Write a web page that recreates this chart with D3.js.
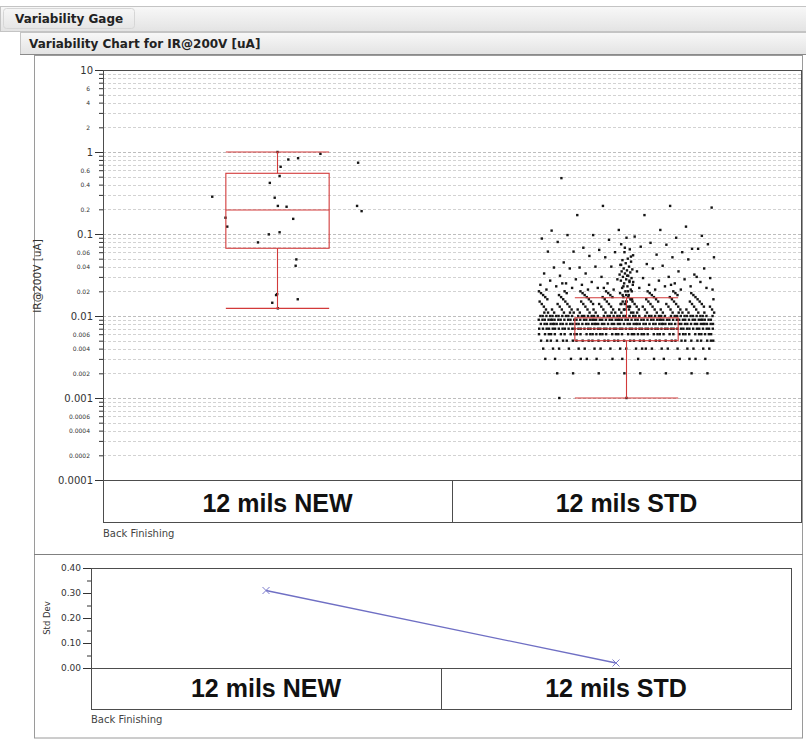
<!DOCTYPE html>
<html><head><meta charset="utf-8">
<script src="https://cdn.jsdelivr.net/npm/d3@7"></script>
<style>
html,body{margin:0;padding:0;background:#fff;}
svg{display:block;}
</style></head><body>
<svg id="chart" width="806" height="740"></svg>
<script>
// ---- data ----
const categories = ["12 mils NEW", "12 mils STD"];
const groupLabel = "Back Finishing";
const reportTitle = "Variability Gage";
const chartTitle = "Variability Chart for IR@200V [uA]";
const yTitle = "IR@200V [uA]";
const sdTitle = "Std Dev";

// box summary for each category
const whiskerHigh = [1.0, 0.0167];
const quartile3 = [0.55, 0.0095];
const medians = [0.196, 0.007];
const quartile1 = [0.067, 0.005];
const whiskerLow = [0.0124, 0.001];

// standard deviation per category
const stdDevs = [0.31, 0.02];

// 12 mils NEW readings and their horizontal jitter (fraction of category width)
const newValues = [1.0, 0.95, 0.81, 0.84, 0.74, 0.66, 0.51, 0.42, 0.285, 0.277, 0.22, 0.215, 0.22, 0.19,
  0.153, 0.158, 0.123, 0.099, 0.105, 0.079, 0.041, 0.049, 0.0185, 0.018, 0.0145, 0.016, 0.0124];
const newJitter = [0.000, 0.123, 0.031, 0.059, 0.231, 0.009, 0.006, -0.022, -0.187, -0.008, 0.001, 0.026, 0.228, 0.241,
  0.045, -0.149, -0.144, -0.025, 0.006, -0.056, 0.052, 0.054, -0.001, -0.004, -0.015, 0.058, 0.001];

// 12 mils STD readings: resolution 0.001 uA, many repeated values
const stdLevels = [0.001, 0.002, 0.003, 0.004, 0.005, 0.006, 0.007, 0.008, 0.009, 0.010,
  0.011, 0.012, 0.013, 0.014, 0.015, 0.016, 0.017, 0.018, 0.019, 0.020];
const stdLevelCounts = [2, 8, 15, 22, 35, 45, 55, 60, 60, 50,
  25, 20, 15, 14, 12, 10, 9, 8, 7, 7];
// higher STD readings, spread across the category
const stdScatter = [0.48, 0.22, 0.22, 0.21, 0.17, 0.17, 0.123, 0.112, 0.11, 0.112, 0.097, 0.095, 0.093, 0.097,
  0.09, 0.085, 0.088, 0.078, 0.068, 0.066, 0.068, 0.08, 0.074, 0.064, 0.075, 0.07, 0.061, 0.06, 0.06, 0.061,
  0.056, 0.054, 0.066, 0.053, 0.045, 0.052, 0.052, 0.052, 0.043, 0.039, 0.049, 0.042, 0.039, 0.041, 0.040,
  0.038, 0.035, 0.038, 0.035, 0.04, 0.033, 0.038, 0.033, 0.032, 0.031, 0.031, 0.030, 0.030, 0.029, 0.029,
  0.028, 0.028, 0.028, 0.027, 0.027, 0.026, 0.026, 0.026, 0.025, 0.025, 0.025, 0.024, 0.024, 0.024, 0.023,
  0.023, 0.023, 0.023, 0.022, 0.022, 0.022, 0.022, 0.021, 0.021, 0.021, 0.021, 0.021, 0.03, 0.027, 0.025,
  0.024, 0.022, 0.021];
// STD readings stacked near the category centre
const stdCentre = [0.09, 0.075, 0.065, 0.06, 0.055, 0.05, 0.048, 0.046, 0.044, 0.042, 0.04, 0.038, 0.037,
  0.036, 0.035, 0.034, 0.033, 0.032, 0.031, 0.030, 0.029, 0.028, 0.027, 0.026, 0.025, 0.024, 0.023, 0.022,
  0.021, 0.020, 0.019, 0.018, 0.017, 0.016, 0.015, 0.014, 0.013, 0.012, 0.011, 0.02, 0.018, 0.016, 0.015,
  0.014, 0.013, 0.012];

// axis ticks
const logMajorTicks = [0.0001, 0.001, 0.01, 0.1, 1, 10];
const logMinorDigits = [2, 3, 4, 5, 6, 7, 8, 9];
const logLabelDigits = [2, 4, 6];
const sdTicks = [0, 0.1, 0.2, 0.3, 0.4];
const sdMinorTicks = [0.05, 0.15, 0.25, 0.35];

// ---- drawing ----
const svg = d3.select("#chart");
const smallFont = "'DejaVu Sans', sans-serif";
const catFont = "'Liberation Sans', Arial, sans-serif";
const frameColor = "#4d4d4d";
const boxColor = "#d23a3a";

// header bars
const defs = svg.append("defs");
const grad = defs.append("linearGradient").attr("id", "hdr").attr("x1", 0).attr("x2", 0).attr("y1", 0).attr("y2", 1);
grad.append("stop").attr("offset", "0%").attr("stop-color", "#f8f8f8");
grad.append("stop").attr("offset", "100%").attr("stop-color", "#e3e3e3");

svg.append("rect").attr("x", 0.5).attr("y", 6.5).attr("width", 806).attr("height", 25)
  .attr("fill", "url(#hdr)").attr("stroke", "#c4c4c4");
svg.append("rect").attr("x", 3.5).attr("y", 8.5).attr("width", 131).attr("height", 20).attr("rx", 3)
  .attr("fill", "none").attr("stroke", "#d6d6d6");
svg.append("text").attr("x", 15).attr("y", 23).text(reportTitle)
  .attr("font-family", smallFont).attr("font-weight", "bold").attr("font-size", 12).attr("fill", "#222");

svg.append("rect").attr("x", 20.5).attr("y", 32.5).attr("width", 786).attr("height", 22)
  .attr("fill", "url(#hdr)").attr("stroke", "#c4c4c4");
svg.append("line").attr("x1", 20).attr("x2", 806).attr("y1", 54.5).attr("y2", 54.5).attr("stroke", "#8a8a8a");
svg.append("text").attr("x", 29).attr("y", 48).text(chartTitle)
  .attr("font-family", smallFont).attr("font-weight", "bold").attr("font-size", 12).attr("fill", "#222");

// outer report frame
svg.append("rect").attr("x", 34.5).attr("y", 55.5).attr("width", 768).attr("height", 682.5)
  .attr("fill", "none").attr("stroke", "#9a9a9a");
svg.append("line").attr("x1", 34).attr("x2", 803).attr("y1", 554.5).attr("y2", 554.5).attr("stroke", "#808080");

// ---- upper panel: variability chart on log scale ----
const plotL = 103, plotR = 801, plotT = 70, plotB = 480, catB = 522;
const x = d3.scaleBand().domain(categories).range([plotL, plotR]).padding(0);
const y = d3.scaleLog().domain([0.0001, 10]).range([plotB, plotT]);

const gridValues = [];
logMajorTicks.forEach(m => {
  gridValues.push(m);
  if (m < 10) logMinorDigits.forEach(d => gridValues.push(m * d));
});

svg.append("g").selectAll("line").data(gridValues).join("line")
  .attr("x1", plotL).attr("x2", plotR)
  .attr("y1", d => Math.round(y(d)) + 0.5).attr("y2", d => Math.round(y(d)) + 0.5)
  .attr("stroke", d => logMajorTicks.includes(d) ? "#bdbdbd" : "#d2d2d2")
  .attr("stroke-dasharray", "3,2");

function fmtLog(d) {
  return d >= 1 ? String(Math.round(d)) : d.toFixed(Math.max(0, Math.ceil(-Math.log10(d) - 1e-9)));
}

const minorVals = gridValues.filter(d => !logMajorTicks.includes(d));
const minorAxis = d3.axisLeft(y).tickValues(minorVals).tickSize(4).tickPadding(9)
  .tickFormat(d => {
    const digit = Math.round(d / Math.pow(10, Math.floor(Math.log10(d) + 1e-9)));
    return logLabelDigits.includes(digit) ? fmtLog(d) : "";
  });
const gMinor = svg.append("g").attr("transform", `translate(${plotL},0)`).call(minorAxis);
gMinor.select(".domain").remove();
gMinor.selectAll("line").attr("stroke", "#333");
gMinor.selectAll("text").attr("font-family", smallFont).attr("font-size", 6).attr("fill", "#333");

const majorAxis = d3.axisLeft(y).tickValues(logMajorTicks).tickSize(8).tickPadding(2).tickFormat(fmtLog);
const gMajor = svg.append("g").attr("transform", `translate(${plotL},0)`).call(majorAxis);
gMajor.select(".domain").remove();
gMajor.selectAll("line").attr("stroke", "#333");
gMajor.selectAll("text").attr("font-family", smallFont).attr("font-size", 10).attr("fill", "#333");

svg.append("text").attr("transform", `translate(41,${(plotT + plotB) / 2 + 1}) rotate(-90)`)
  .attr("text-anchor", "middle").attr("font-family", smallFont).attr("font-size", 10.5).attr("fill", "#333")
  .text(yTitle);

// points: spread across each category with a golden-ratio jitter sequence
const phi = 0.6180339887;
const frac = v => v - Math.floor(v);
const bw = x.bandwidth();
const cx = c => x(c) + bw / 2;
const spread = 0.252;

const points = [];
newValues.forEach((v, i) => points.push({ cat: categories[0], v, j: newJitter[i] }));
stdLevels.forEach((lv, i) => {
  for (let k = 0; k < stdLevelCounts[i]; k++) {
    points.push({ cat: categories[1], v: lv, j: (frac(k * phi + 0.5 + i * 0.37) - 0.5) * 2 * spread });
  }
});
stdScatter.forEach((v, k) => points.push({ cat: categories[1], v, j: (frac(k * phi + 0.13) - 0.5) * 2 * spread }));
stdCentre.forEach((v, k) => points.push({ cat: categories[1], v, j: (frac(k * phi + 0.5) - 0.5) * 0.04 }));

svg.append("g").selectAll("rect").data(points).join("rect")
  .attr("x", d => cx(d.cat) + d.j * bw - 1.2)
  .attr("y", d => y(d.v) - 1.2)
  .attr("width", 2.4).attr("height", 2.4)
  .attr("fill", "#151515");

// box plots
const boxHalf = 0.148;
const boxes = categories.map((c, i) => ({
  c, hi: whiskerHigh[i], q3: quartile3[i], med: medians[i], q1: quartile1[i], lo: whiskerLow[i]
}));
const gBox = svg.append("g").attr("stroke", boxColor).attr("fill", "none").attr("stroke-width", 1.1);
boxes.forEach(b => {
  const l = cx(b.c) - boxHalf * bw, r = cx(b.c) + boxHalf * bw;
  gBox.append("rect").attr("x", l).attr("y", y(b.q3)).attr("width", r - l).attr("height", y(b.q1) - y(b.q3));
  gBox.append("line").attr("x1", l).attr("x2", r).attr("y1", y(b.med)).attr("y2", y(b.med));
  gBox.append("line").attr("x1", cx(b.c)).attr("x2", cx(b.c)).attr("y1", y(b.hi)).attr("y2", y(b.q3));
  gBox.append("line").attr("x1", cx(b.c)).attr("x2", cx(b.c)).attr("y1", y(b.q1)).attr("y2", y(b.lo));
  gBox.append("line").attr("x1", l).attr("x2", r).attr("y1", y(b.hi)).attr("y2", y(b.hi));
  gBox.append("line").attr("x1", l).attr("x2", r).attr("y1", y(b.lo)).attr("y2", y(b.lo));
});

// plot frame and category bar
svg.append("rect").attr("x", plotL + 0.5).attr("y", plotT + 0.5).attr("width", plotR - plotL).attr("height", catB - plotT)
  .attr("fill", "none").attr("stroke", frameColor);
svg.append("line").attr("x1", plotL).attr("x2", plotR).attr("y1", plotB + 0.5).attr("y2", plotB + 0.5).attr("stroke", frameColor);
svg.append("line").attr("x1", x(categories[1]) + 0.5).attr("x2", x(categories[1]) + 0.5)
  .attr("y1", plotB).attr("y2", catB).attr("stroke", frameColor);
svg.append("g").selectAll("text").data(categories).join("text")
  .attr("x", d => cx(d)).attr("y", 511.5).attr("text-anchor", "middle")
  .attr("font-family", catFont).attr("font-weight", "bold").attr("font-size", 25).attr("fill", "#111")
  .text(d => d);
svg.append("text").attr("x", plotL).attr("y", 537).text(groupLabel)
  .attr("font-family", smallFont).attr("font-size", 10).attr("fill", "#444");

// ---- lower panel: standard deviation chart ----
const sdL = 91, sdR = 791, sdT = 568, sdB = 668, sdCatB = 709;
const x2 = d3.scaleBand().domain(categories).range([sdL, sdR]).padding(0);
const y2 = d3.scaleLinear().domain([0, 0.4]).range([sdB, sdT]);

const sdMinor = d3.axisLeft(y2).tickValues(sdMinorTicks).tickSize(4).tickFormat("");
const gsm = svg.append("g").attr("transform", `translate(${sdL},0)`).call(sdMinor);
gsm.select(".domain").remove();
gsm.selectAll("line").attr("stroke", "#333");
const sdAxis = d3.axisLeft(y2).tickValues(sdTicks).tickSize(8).tickPadding(2).tickFormat(d3.format(".2f"));
const gsa = svg.append("g").attr("transform", `translate(${sdL},0)`).call(sdAxis);
gsa.select(".domain").remove();
gsa.selectAll("line").attr("stroke", "#333");
gsa.selectAll("text").attr("font-family", smallFont).attr("font-size", 9).attr("fill", "#333");

svg.append("text").attr("transform", `translate(50,${(sdT + sdB) / 2}) rotate(-90)`)
  .attr("text-anchor", "middle").attr("font-family", smallFont).attr("font-size", 8.5).attr("fill", "#333")
  .text(sdTitle);

const sdPts = categories.map((c, i) => ({ c, v: stdDevs[i] }));
svg.append("path").datum(sdPts)
  .attr("d", d3.line().x(d => x2(d.c) + x2.bandwidth() / 2).y(d => y2(d.v)))
  .attr("fill", "none").attr("stroke", "#6f6fc4").attr("stroke-width", 1.3);
const gx = svg.append("g").attr("stroke", "#7a7acc").attr("stroke-width", 1);
sdPts.forEach(p => {
  const px = x2(p.c) + x2.bandwidth() / 2, py = y2(p.v), s = 3.5;
  gx.append("line").attr("x1", px - s).attr("x2", px + s).attr("y1", py - s).attr("y2", py + s);
  gx.append("line").attr("x1", px - s).attr("x2", px + s).attr("y1", py + s).attr("y2", py - s);
});

svg.append("rect").attr("x", sdL + 0.5).attr("y", sdT + 0.5).attr("width", sdR - sdL).attr("height", sdCatB - sdT)
  .attr("fill", "none").attr("stroke", frameColor);
svg.append("line").attr("x1", sdL).attr("x2", sdR).attr("y1", sdB + 0.5).attr("y2", sdB + 0.5).attr("stroke", frameColor);
svg.append("line").attr("x1", x2(categories[1]) + 0.5).attr("x2", x2(categories[1]) + 0.5)
  .attr("y1", sdB).attr("y2", sdCatB).attr("stroke", frameColor);
svg.append("g").selectAll("text").data(categories).join("text")
  .attr("x", d => x2(d) + x2.bandwidth() / 2).attr("y", 697).attr("text-anchor", "middle")
  .attr("font-family", catFont).attr("font-weight", "bold").attr("font-size", 25).attr("fill", "#111")
  .text(d => d);
svg.append("text").attr("x", sdL).attr("y", 723).text(groupLabel)
  .attr("font-family", smallFont).attr("font-size", 10).attr("fill", "#444");
</script>
</body></html>
